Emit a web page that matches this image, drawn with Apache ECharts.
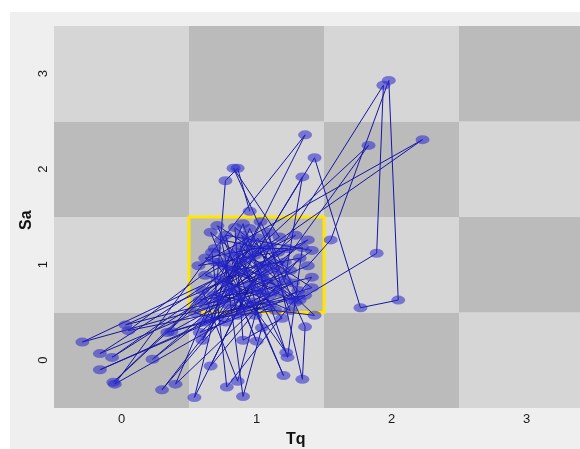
<!DOCTYPE html>
<html>
<head>
<meta charset="utf-8">
<script src="https://cdn.jsdelivr.net/npm/echarts@6/dist/echarts.min.js"></script>
<style>
  html, body { margin: 0; padding: 0; background: #ffffff; }
  #chart { width: 580px; height: 449px; }
</style>
</head>
<body>
<div id="chart"></div>
<script>
// Path of observations in the Tq / Sa plane, in recorded order
const tq = [0.95, 0.86, 0.77, 0.71, -0.29, 1.04, 1.83, -0.06, 1.09, 1.34,
            1.36, 0.83, 1.17, -0.16, 1.38, 1.55, 1.98, 2.05, 1.77, 1.43,
            0.91, 0.03, 1.41, 0.78, 0.67, 1.36, 0.60, 0.99, 1.34, 1.21,
            0.40, 0.90, 1.23, 1.34, 0.57, 2.23, -0.07, 1.16, 1.94, 1.89,
            1.29, 0.66, 1.00, 0.84, 0.23, 1.38, 0.60, 0.86, 1.06, 0.37,
            1.41, 0.71, 1.20, 0.97, -0.16, 1.17, 0.77, 0.90, 1.04, 0.88,
            1.43, 0.79, 0.30, 1.11, 0.62, 1.25, 0.84, 0.90, 1.19, 0.80,
            0.54, 1.03, 1.32, 0.66, 0.95, 0.86, 0.74, 1.06, 0.54, 0.77,
            0.88, 0.58, 1.10, 0.69, 1.01, 1.25, 0.77, 0.94, 1.14, 0.82,
            1.21, 1.04, 0.69, 0.99, 1.31, 0.89, 1.10, 0.62, 0.97, 1.23,
            0.80, 1.09, 0.95, 0.73, 1.29, 0.88, 1.14, 0.66, 1.03, 1.32,
            0.69, -0.05, 1.27, 0.61, 0.94, 0.34, 1.36, 0.05, 0.73, 1.22,
            0.85, 1.16, 0.58, 1.01, 1.41, 0.77, 0.91, 1.10, 0.62, 1.26];
const sa = [1.56, 2.01, 1.88, 0.86, 0.19, 0.71, 2.25, -0.23, 1.34, -0.20,
            0.35, 2.01, 1.29, 0.07, 0.99, 1.26, 2.93, 0.63, 0.55, 2.12,
            0.92, 0.37, 0.87, -0.28, 1.13, 2.36, 0.21, 1.10, 1.92, 0.84,
            -0.25, 1.43, 0.03, 1.18, 0.99, 2.31, 0.03, 1.13, 2.88, 1.12,
            0.61, 1.34, 0.20, 0.75, 0.01, 1.26, 0.73, -0.22, 0.84, 0.30,
            0.76, 1.41, -0.16, 0.61, -0.10, 0.71, 0.99, -0.38, 0.34, 1.20,
            0.47, 0.58, -0.31, 1.03, 0.58, 0.94, 1.39, 0.21, 0.44, 1.10,
            -0.39, 0.99, 1.07, -0.06, 0.79, 0.47, 1.26, 1.17, 0.50, 0.40,
            0.65, 0.29, 0.58, 0.68, 1.28, 0.52, 0.82, 1.07, 0.79, 0.94,
            1.03, 0.89, 1.03, 0.47, 0.73, 1.31, 0.68, 0.89, 1.17, 1.17,
            0.73, 0.96, 1.38, 0.63, 1.31, 1.03, 0.52, 0.44, 1.45, 0.63,
            1.17, -0.25, 0.81, 0.40, 1.26, 0.29, 0.68, 0.31, 1.03, 0.08,
            1.13, 0.94, 0.63, 0.73, 1.15, 1.31, 0.52, 1.20, 1.07, 0.63];

// Axis tick labels and the highlighted cell
const tickValues = [0, 1, 2, 3];
const focusCell = [1, 1];
const axisRange = [-0.5, 3.5];

// Checkerboard cells, one per integer grid position
const cells = [];
tickValues.forEach(function (i) {
  tickValues.forEach(function (j) { cells.push([i, j]); });
});

const path = tq.map(function (x, k) { return [x, sa[k]]; });

const chart = echarts.init(document.getElementById('chart'), null, { renderer: 'canvas' });

const labelFont = { fontFamily: 'Liberation Sans, Arial, sans-serif', fontSize: 13, color: '#1a1a1a' };

chart.setOption({
  backgroundColor: '#ffffff',
  animation: false,
  graphic: [
    { type: 'rect', z: -10, shape: { x: 10, y: 12, width: 580, height: 449 }, style: { fill: '#efefef' }, silent: true },
    { type: 'text', left: 286, top: 432, style: { text: 'Tq', font: 'bold 16px "Liberation Sans", Arial, sans-serif', fill: '#111' } },
    { type: 'text', x: 19, y: 230, rotation: Math.PI / 2, style: { text: 'Sa', font: 'bold 16px "Liberation Sans", Arial, sans-serif', fill: '#111' } }
  ],
  // The plotting panel runs a little past the right edge of the canvas
  grid: { left: 54, top: 26, width: 540, height: 382, containLabel: false, outerBoundsMode: 'none' },
  xAxis: {
    type: 'value', min: axisRange[0], max: axisRange[1],
    axisLine: { show: false }, axisTick: { show: false }, splitLine: { show: false },
    axisLabel: Object.assign({ customValues: tickValues, margin: 5 }, labelFont)
  },
  yAxis: {
    type: 'value', min: axisRange[0], max: axisRange[1],
    axisLine: { show: false }, axisTick: { show: false }, splitLine: { show: false },
    axisLabel: Object.assign({ customValues: tickValues, margin: 4, rotate: 90 }, labelFont)
  },
  series: [
    {
      type: 'custom',
      z: 0,
      silent: true,
      data: cells,
      renderItem: function (params, api) {
        const i = api.value(0), j = api.value(1);
        const p0 = api.coord([i - 0.5, j + 0.5]);
        const p1 = api.coord([i + 0.5, j - 0.5]);
        return {
          type: 'rect',
          shape: { x: p0[0], y: p0[1], width: p1[0] - p0[0], height: p1[1] - p0[1] },
          style: { fill: (i + j) % 2 === 0 ? '#bbbbbb' : '#d6d6d6' }
        };
      }
    },
    {
      type: 'custom',
      z: 1,
      silent: true,
      data: [focusCell],
      renderItem: function (params, api) {
        const i = api.value(0), j = api.value(1);
        const p0 = api.coord([i - 0.5, j + 0.5]);
        const p1 = api.coord([i + 0.5, j - 0.5]);
        return {
          type: 'rect',
          shape: { x: p0[0], y: p0[1], width: p1[0] - p0[0], height: p1[1] - p0[1] },
          style: { fill: 'none', stroke: '#ffe600', lineWidth: 3 }
        };
      }
    },
    {
      type: 'line',
      z: 2,
      data: path,
      showAllSymbol: true,
      symbol: 'circle',
      symbolSize: [14, 9],
      itemStyle: { color: 'rgba(40, 40, 205, 0.55)', borderWidth: 0 },
      lineStyle: { color: '#1616a4', width: 1 },
      emphasis: { disabled: true }
    }
  ]
});
</script>
</body>
</html>
